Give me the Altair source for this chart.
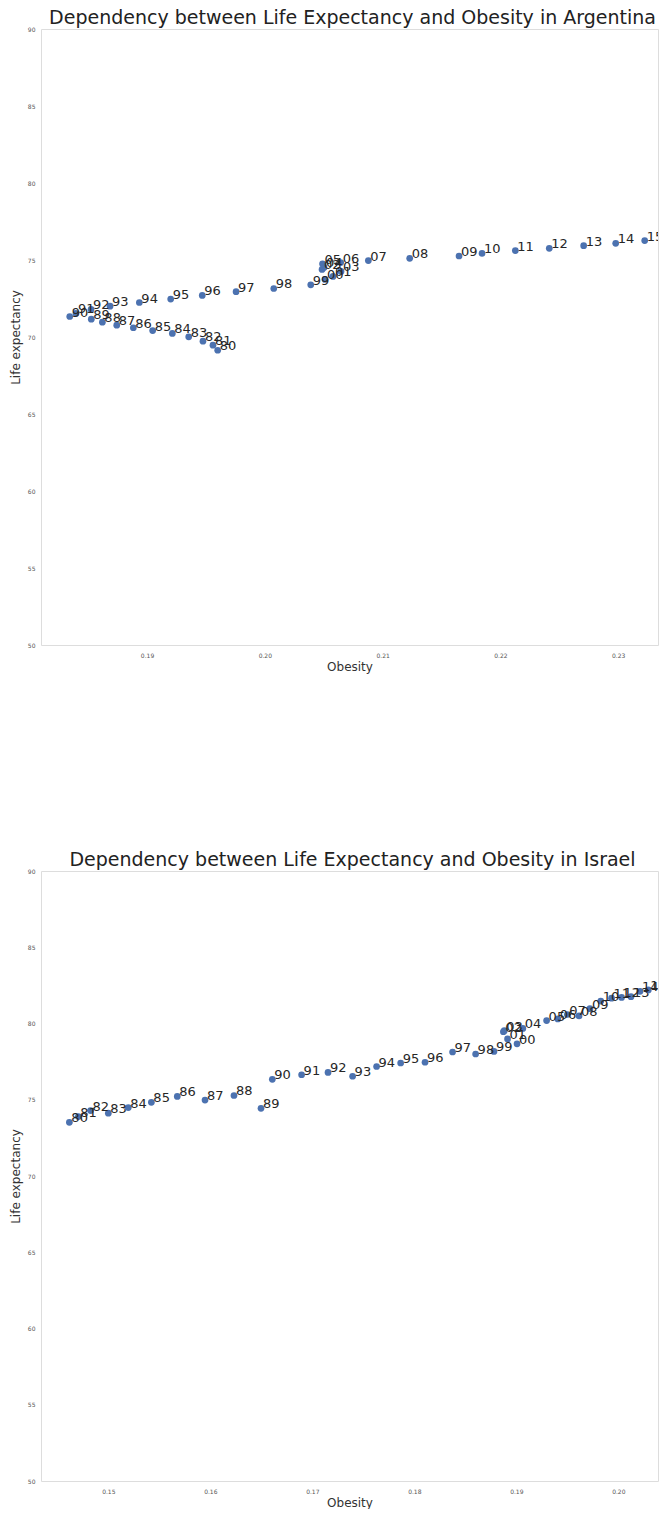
import altair as alt
import pandas as pd

years = ["80", "81", "82", "83", "84", "85", "86", "87", "88", "89",
         "90", "91", "92", "93", "94", "95", "96", "97", "98", "99",
         "00", "01", "02", "03", "04", "05", "06", "07", "08", "09",
         "10", "11", "12", "13", "14", "15"]

arg_obesity = [0.19600, 0.19560, 0.19475, 0.19354, 0.19215, 0.19048, 0.18884, 0.18743, 0.18621, 0.18527,
               0.18344, 0.18397, 0.18525, 0.18686, 0.18935, 0.19201, 0.19469, 0.19756, 0.20076, 0.20390,
               0.20511, 0.20579, 0.20486, 0.20647, 0.20503, 0.20490, 0.20644, 0.20879, 0.21230, 0.21649,
               0.21844, 0.22127, 0.22415, 0.22707, 0.22979, 0.23225]
arg_life = [69.14, 69.47, 69.73, 70.01, 70.23, 70.42, 70.60, 70.77, 70.96, 71.16,
            71.33, 71.53, 71.79, 72.00, 72.24, 72.46, 72.70, 72.94, 73.15, 73.39,
            73.74, 73.93, 74.39, 74.26, 74.52, 74.75, 74.83, 74.96, 75.11, 75.26,
            75.43, 75.61, 75.76, 75.93, 76.08, 76.26]

isr_obesity = [0.14618, 0.14706, 0.14826, 0.15000, 0.15196, 0.15422, 0.15676, 0.15948, 0.16232, 0.16497,
               0.16608, 0.16895, 0.17154, 0.17395, 0.17630, 0.17866, 0.18105, 0.18375, 0.18601, 0.18781,
               0.19007, 0.18914, 0.18873, 0.18882, 0.19064, 0.19297, 0.19407, 0.19500, 0.19615, 0.19722,
               0.19828, 0.19934, 0.20032, 0.20124, 0.20213, 0.20294]
isr_life = [73.52, 73.90, 74.29, 74.12, 74.49, 74.83, 75.22, 74.98, 75.28, 74.44,
            76.34, 76.64, 76.79, 76.54, 77.18, 77.41, 77.46, 78.13, 78.00, 78.17,
            78.67, 78.99, 79.46, 79.53, 79.68, 80.19, 80.30, 80.59, 80.50, 80.97,
            81.47, 81.66, 81.71, 81.76, 82.11, 82.20]

y_ticks = [50, 55, 60, 65, 70, 75, 80, 85, 90]
arg_x_ticks = [0.19, 0.20, 0.21, 0.22, 0.23]
isr_x_ticks = [0.15, 0.16, 0.17, 0.18, 0.19, 0.20]

FONT = "DejaVu Sans"


def panel(country, obesity, life, xdomain, xticks, height):
    df = pd.DataFrame({"year": years, "obesity": obesity, "life": life})
    x = alt.X("obesity:Q", title="Obesity",
              scale=alt.Scale(domain=xdomain, nice=False, zero=False),
              axis=alt.Axis(values=xticks, format=".2f", grid=False, ticks=False,
                            domain=False, labelFontSize=6, labelColor="#555555",
                            labelPadding=7, titleFontSize=12, titleColor="#333333",
                            titleFontWeight="normal", titlePadding=3, labelFont=FONT,
                            titleFont=FONT))
    y = alt.Y("life:Q", title="Life expectancy",
              scale=alt.Scale(domain=[50, 90], nice=False, zero=False),
              axis=alt.Axis(values=y_ticks, grid=False, ticks=False, domain=False,
                            labelFontSize=6, labelColor="#555555", labelPadding=6,
                            titleFontSize=12, titleColor="#333333", titleFontWeight="normal",
                            titlePadding=5, labelFont=FONT, titleFont=FONT))
    base = alt.Chart(df).encode(x=x, y=y)
    pts = base.mark_circle(size=45, color="#4c72b0", opacity=1, clip=True)
    txt = base.mark_text(align="left", baseline="alphabetic", dx=2, dy=0, clip=True,
                         fontSize=13, font=FONT, color="#262626").encode(text="year:N")
    return alt.layer(pts, txt).properties(
        width=617, height=height,
        title=alt.TitleParams(f"Dependency between Life Expectancy and Obesity in {country}",
                              fontSize=19, font=FONT, fontWeight="normal", color="#222222",
                              anchor="middle", offset=-2, dx=3))


top = panel("Argentina", arg_obesity, arg_life, [0.181, 0.23338], arg_x_ticks, 616)
bottom = panel("Israel", isr_obesity, isr_life, [0.1434, 0.20389], isr_x_ticks, 610)

chart = alt.vconcat(top, bottom, spacing=177).configure_view(
    stroke="#e3e3e3", strokeWidth=1.5
).configure(background="white", padding=0)

chart.save("out.html", embed_options={"renderer": "svg", "actions": False})
